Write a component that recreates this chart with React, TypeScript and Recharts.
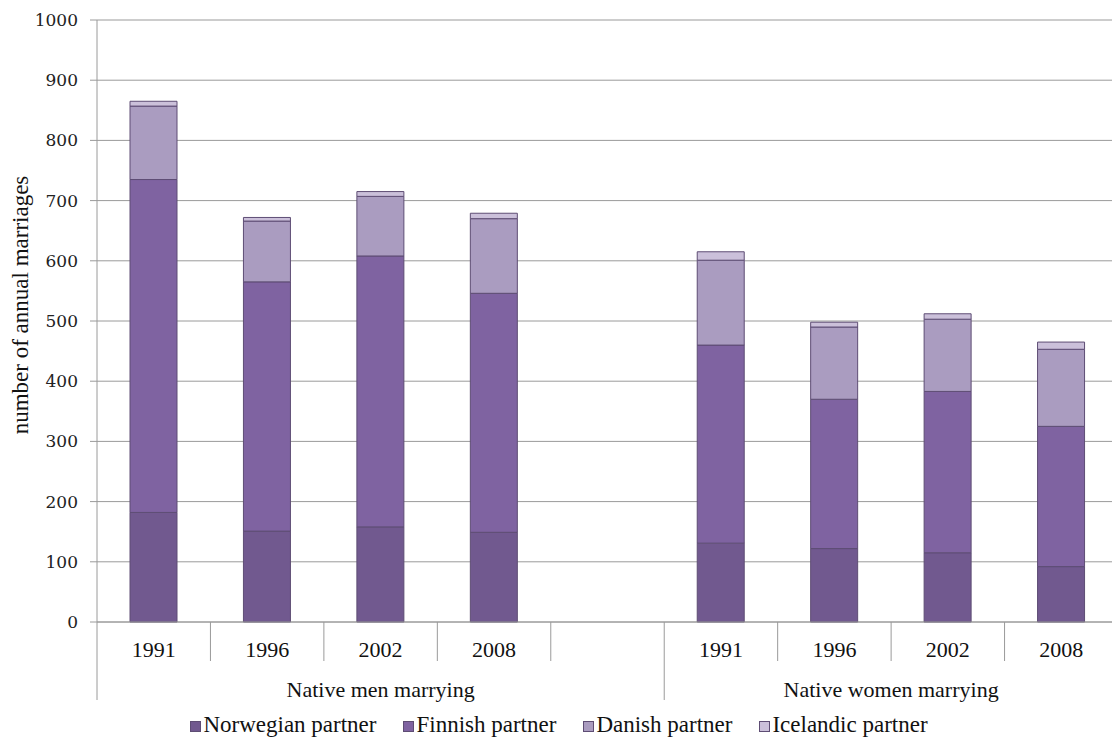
import { BarChart, Bar, CartesianGrid, XAxis, YAxis, Legend, Label } from 'recharts';

const years = ['1991', '1996', '2002', '2008', '', '1991', '1996', '2002', '2008'];
const groupOf = [0, 0, 0, 0, 0, 1, 1, 1, 1];
const groupLabels = ['Native men marrying', 'Native women marrying'];

const norwegian = [182, 151, 158, 149, null, 131, 122, 115, 92];
const finnish = [553, 414, 450, 397, null, 329, 248, 268, 233];
const danish = [122, 101, 99, 124, null, 141, 120, 120, 128];
const icelandic = [8, 6, 8, 9, null, 14, 8, 9, 12];

const yTicks = [0, 100, 200, 300, 400, 500, 600, 700, 800, 900, 1000];

const series = [
  { key: 'norwegian', name: 'Norwegian partner', color: '#71598f' },
  { key: 'finnish', name: 'Finnish partner', color: '#7f63a1' },
  { key: 'danish', name: 'Danish partner', color: '#aa9cc0' },
  { key: 'icelandic', name: 'Icelandic partner', color: '#cbc0da' },
];

const data = years.map((year, i) => ({
  id: 'c' + i,
  year,
  group: groupOf[i],
  norwegian: norwegian[i],
  finnish: finnish[i],
  danish: danish[i],
  icelandic: icelandic[i],
}));

const W = 1118;
const H = 738;
const Y_AXIS_W = 97;
const BAND = (W - Y_AXIS_W) / data.length;
const SERIF = '"Liberation Serif", "Times New Roman", serif';
const LINE = '#9a9a9a';

// two-level category axis: years, then the group names underneath
function CategoryTick(props: any) {
  const { x, y, index } = props;
  const row = data[index];
  const left = x - BAND / 2;
  const firstOfGroup = index === 0 || data[index - 1].group !== row.group;
  const groupSize = data.filter(d => d.group === row.group).length;
  return (
    <g>
      <line x1={left} x2={left} y1={y} y2={y + (firstOfGroup ? 78 : 39)} stroke={LINE} />
      <text x={x} y={y + 35} textAnchor="middle" fontFamily={SERIF} fontSize={22} fill="#111">
        {row.year}
      </text>
      {firstOfGroup && (
        <text
          x={left + (groupSize * BAND) / 2}
          y={y + 75}
          textAnchor="middle"
          fontFamily={SERIF}
          fontSize={22}
          fill="#111"
        >
          {groupLabels[row.group]}
        </text>
      )}
    </g>
  );
}

function LegendBox() {
  return (
    <div
      style={{
        display: 'flex',
        justifyContent: 'center',
        gap: 27,
        fontFamily: SERIF,
        fontSize: 23,
        lineHeight: '26px',
        paddingTop: 10,
        color: '#111',
      }}
    >
      {series.map(s => (
        <span key={s.key} style={{ display: 'flex', alignItems: 'center' }}>
          <span
            style={{
              display: 'inline-block',
              width: 9,
              height: 9,
              background: s.color,
              border: '1px solid #5e4d74',
              marginRight: 2,
              marginTop: 2,
            }}
          />
          {s.name}
        </span>
      ))}
    </div>
  );
}

export default function App() {
  return (
    <div style={{ position: 'absolute', left: 0, top: 0, width: 1112, height: H, overflow: 'hidden', background: '#fff' }}>
      <BarChart width={W} height={H} data={data} margin={{ top: 20, right: 0, bottom: 0, left: 0 }} barSize={47}>
        <CartesianGrid vertical={false} stroke={LINE} />
        <XAxis
          dataKey="id"
          interval={0}
          height={80}
          tickSize={0}
          tickMargin={0}
          tickLine={false}
          axisLine={{ stroke: LINE }}
          tick={<CategoryTick />}
        />
        <YAxis
          width={Y_AXIS_W}
          domain={[0, 1000]}
          ticks={yTicks}
          interval={0}
          tickSize={7}
          tickMargin={12}
          axisLine={{ stroke: LINE }}
          tickLine={{ stroke: LINE }}
          tick={{ fontFamily: '"DejaVu Serif", serif', fontSize: 17, fill: '#222' }}
        >
          <Label
            content={(p: any) => {
              const vb = p.viewBox;
              const cx = vb.x + 20;
              const cy = vb.y + vb.height / 2 - 16;
              return (
                <text
                  x={cx}
                  y={cy}
                  transform={`rotate(-90 ${cx} ${cy})`}
                  textAnchor="middle"
                  dominantBaseline="central"
                  fontFamily={SERIF}
                  fontSize={23}
                  fill="#111"
                >
                  number of annual marriages
                </text>
              );
            }}
          />
        </YAxis>
        <Legend verticalAlign="bottom" height={36} content={<LegendBox />} />
        {series.map(s => (
          <Bar
            key={s.key}
            dataKey={s.key}
            name={s.name}
            stackId="a"
            fill={s.color}
            stroke="#5e4d74"
            strokeWidth={1}
            isAnimationActive={false}
          />
        ))}
      </BarChart>
    </div>
  );
}
